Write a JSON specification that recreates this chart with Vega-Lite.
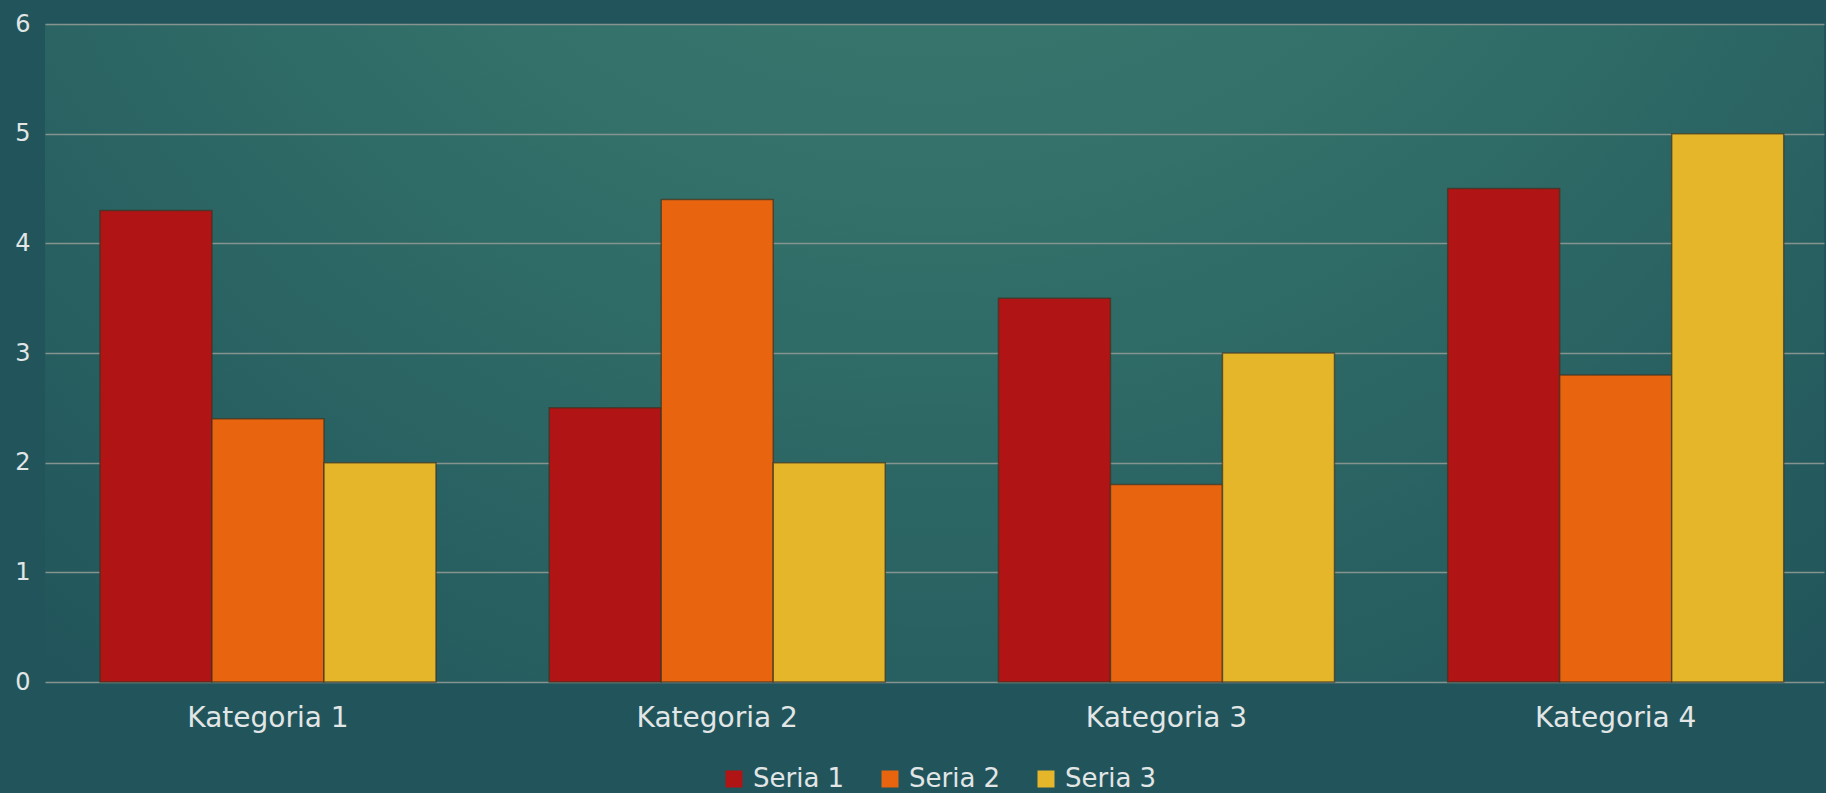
{
  "$schema": "https://vega.github.io/schema/vega-lite/v6.json",
  "width": 1779,
  "height": 658,
  "autosize": {"type": "none"},
  "padding": {"left": 45, "top": 24, "right": 2, "bottom": 111},
  "background": "#21555b",
  "config": {
    "view": {
      "stroke": null,
      "fill": {
        "gradient": "radial",
        "x1": 0.5, "y1": 0.05, "r1": 0,
        "x2": 0.5, "y2": 0.05, "r2": 0.8,
        "stops": [
          {"offset": 0, "color": "#3e7e72"},
          {"offset": 0.45, "color": "#33716a"},
          {"offset": 1, "color": "#21555b"}
        ]
      }
    },
    "font": "DejaVu Sans"
  },
  "data": {
    "values": [
      {"kategoria": "Kategoria 1", "seria": "Seria 1", "value": 4.3},
      {"kategoria": "Kategoria 1", "seria": "Seria 2", "value": 2.4},
      {"kategoria": "Kategoria 1", "seria": "Seria 3", "value": 2.0},
      {"kategoria": "Kategoria 2", "seria": "Seria 1", "value": 2.5},
      {"kategoria": "Kategoria 2", "seria": "Seria 2", "value": 4.4},
      {"kategoria": "Kategoria 2", "seria": "Seria 3", "value": 2.0},
      {"kategoria": "Kategoria 3", "seria": "Seria 1", "value": 3.5},
      {"kategoria": "Kategoria 3", "seria": "Seria 2", "value": 1.8},
      {"kategoria": "Kategoria 3", "seria": "Seria 3", "value": 3.0},
      {"kategoria": "Kategoria 4", "seria": "Seria 1", "value": 4.5},
      {"kategoria": "Kategoria 4", "seria": "Seria 2", "value": 2.8},
      {"kategoria": "Kategoria 4", "seria": "Seria 3", "value": 5.0}
    ]
  },
  "mark": {"type": "bar", "stroke": "#3a3424", "strokeOpacity": 0.7, "strokeWidth": 1.5},
  "encoding": {
    "x": {
      "field": "kategoria",
      "type": "nominal",
      "scale": {"paddingInner": 0.252, "paddingOuter": 0.106, "align": 0.577},
      "axis": {
        "title": null,
        "labelAngle": 0,
        "domain": false,
        "ticks": false,
        "labelFontSize": 28,
        "labelColor": "#e2e6e6",
        "labelPadding": 22
      }
    },
    "xOffset": {
      "field": "seria",
      "type": "nominal",
      "scale": {"paddingInner": 0, "paddingOuter": 0}
    },
    "y": {
      "field": "value",
      "type": "quantitative",
      "scale": {"domain": [0, 6], "nice": false},
      "axis": {
        "title": null,
        "values": [0, 1, 2, 3, 4, 5, 6],
        "labelOverlap": false,
        "domain": false,
        "ticks": false,
        "grid": true,
        "gridColor": "#86948f",
        "gridWidth": 1.5,
        "labelFontSize": 24,
        "labelColor": "#e2e6e6",
        "labelPadding": 15
      }
    },
    "color": {
      "field": "seria",
      "type": "nominal",
      "scale": {"range": ["#b01414", "#e8640f", "#e6b62a"]},
      "legend": {
        "title": null,
        "orient": "none",
        "legendX": 676,
        "legendY": 742,
        "direction": "horizontal",
        "symbolType": "square",
        "symbolSize": 289,
        "symbolStrokeWidth": 0,
        "labelFontSize": 26,
        "labelColor": "#e2e6e6",
        "labelOffset": 6,
        "columnPadding": 32
      }
    }
  }
}
